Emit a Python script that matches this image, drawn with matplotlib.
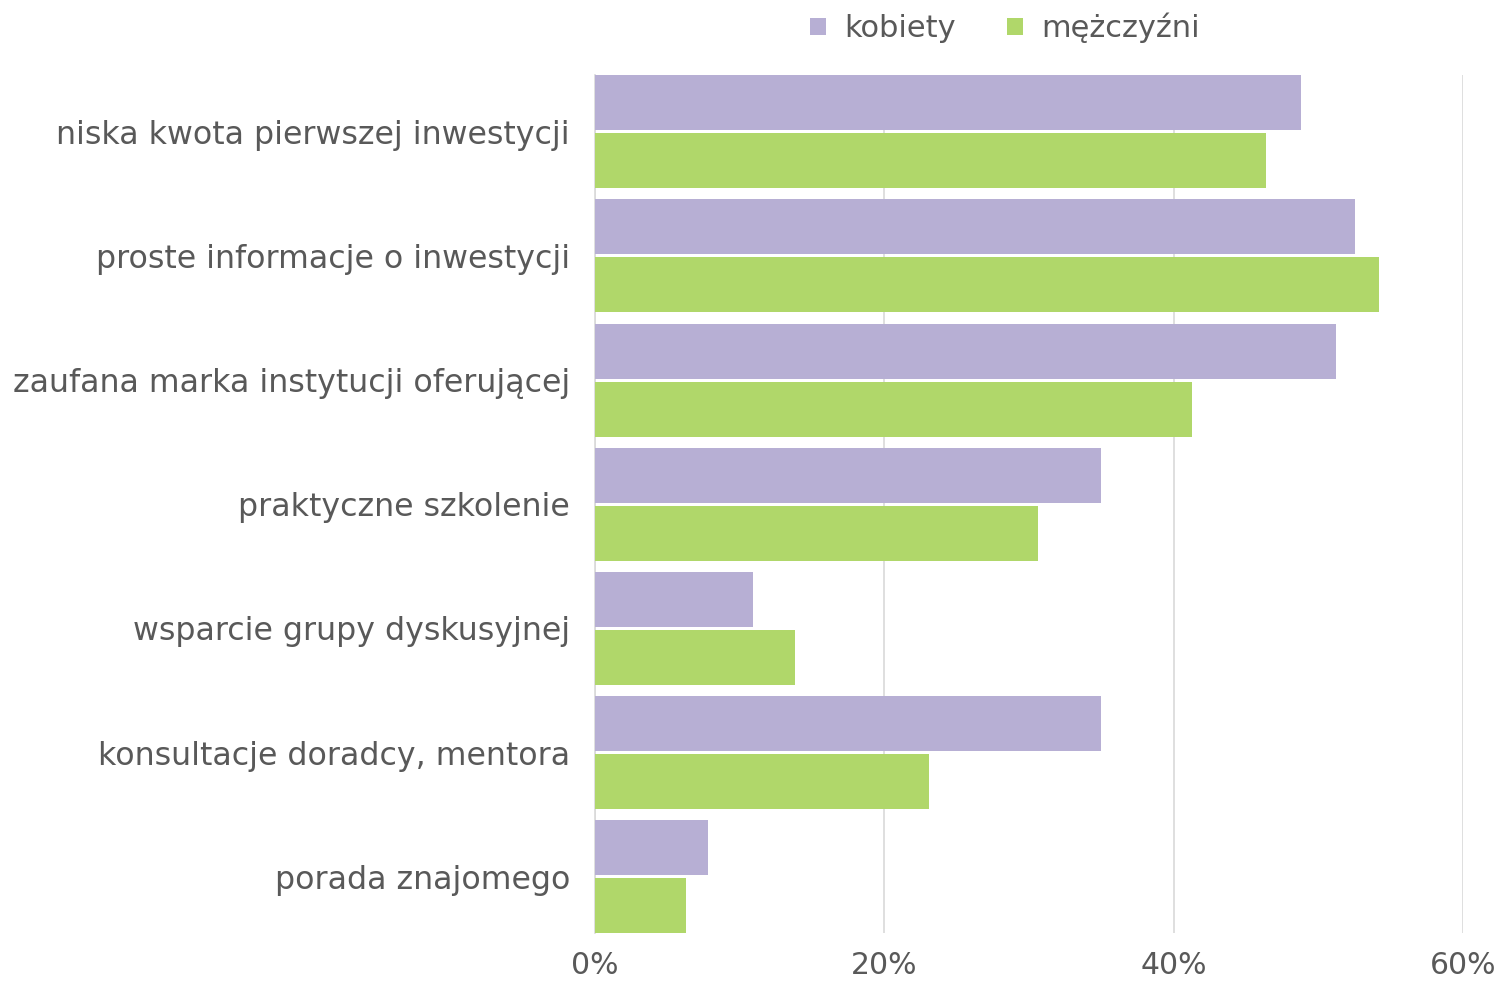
import matplotlib
matplotlib.use("Agg")
import matplotlib.pyplot as plt
import numpy as np

categories = [
    "niska kwota pierwszej inwestycji",
    "proste informacje o inwestycji",
    "zaufana marka instytucji oferującej",
    "praktyczne szkolenie",
    "wsparcie grupy dyskusyjnej",
    "konsultacje doradcy, mentora",
    "porada znajomego",
]
kobiety = [48.8, 52.5, 51.2, 35.0, 10.9, 35.0, 7.8]
mezczyzni = [46.4, 54.2, 41.3, 30.6, 13.8, 23.1, 6.3]
series_names = ["kobiety", "mężczyźni"]
xticks = [0, 20, 40, 60]

purple = "#B7AFD4"
green = "#B0D76A"
text_col = "#595959"

plt.rcParams["font.family"] = ["DejaVu Sans"]

fig = plt.figure(figsize=(15, 9.83), dpi=100)
ax = fig.add_axes([595 / 1500, 1 - 933 / 983, (1463 - 595) / 1500, (933 - 75) / 983])

y = np.arange(len(categories))
h = 55 / 124.25
off = 29 / 124.25
ax.barh(y - off, kobiety, height=h, color=purple, label=series_names[0], zorder=3)
ax.barh(y + off, mezczyzni, height=h, color=green, label=series_names[1], zorder=3)

ax.set_ylim(6.451, -0.455)
ax.set_xlim(0, 60)
ax.set_xticks(xticks)
ax.set_xticklabels([f"{t}%" for t in xticks])
ax.set_yticks(y)
ax.set_yticklabels(categories)

ax.grid(axis="x", color="#D9D9D9", linewidth=1.2, zorder=0)
for s in ["top", "right", "bottom"]:
    ax.spines[s].set_visible(False)
ax.spines["left"].set_color("#D9D9D9")
ax.spines["left"].set_linewidth(1.2)
ax.tick_params(axis="both", length=0, colors=text_col)
ax.tick_params(axis="x", labelsize=21.5, pad=13)
ax.tick_params(axis="y", labelsize=22.8, pad=18)

leg = fig.legend(loc="center", bbox_to_anchor=(1005 / 1500, 1 - 28 / 983), ncol=2,
                 frameon=False, fontsize=22, handlelength=0.5, handleheight=0.5,
                 handletextpad=0.6, columnspacing=1.7, labelcolor=text_col)

fig.savefig("out.png", dpi=100)
